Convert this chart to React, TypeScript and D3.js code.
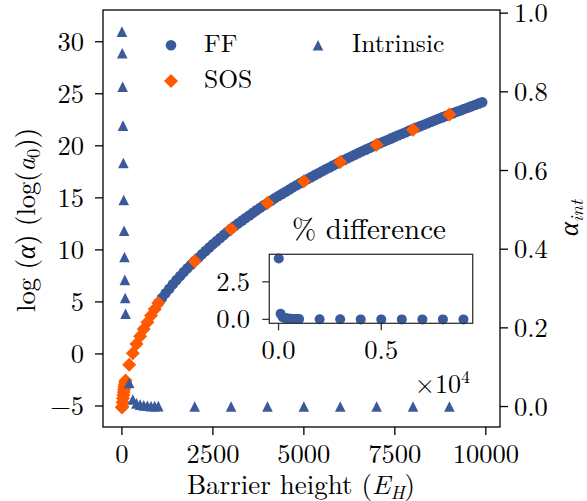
import React from 'react';
import * as d3 from 'd3';

const W = 587;
const H = 501;
const FONT = "'Latin Modern Roman'";
const BLUE = '#3a5a9c';
const ORANGE = '#ff5a00';

// FF: log(alpha) against barrier height
const ffBarrier = [
  1000, 1100, 1200, 1300, 1400, 1500, 1600, 1700, 1800, 1900,
  2000, 2100, 2200, 2300, 2400, 2500, 2600, 2700, 2800, 2900,
  3000, 3100, 3200, 3300, 3400, 3500, 3600, 3700, 3800, 3900,
  4000, 4100, 4200, 4300, 4400, 4500, 4600, 4700, 4800, 4900,
  5000, 5100, 5200, 5300, 5400, 5500, 5600, 5700, 5800, 5900,
  6000, 6100, 6200, 6300, 6400, 6500, 6600, 6700, 6800, 6900,
  7000, 7100, 7200, 7300, 7400, 7500, 7600, 7700, 7800, 7900,
  8000, 8100, 8200, 8300, 8400, 8500, 8600, 8700, 8800, 8900,
  9000, 9100, 9200, 9300, 9400, 9500, 9600, 9700, 9800, 9900,
];
const ffLogAlpha = [
  4.90, 5.37, 5.83, 6.27, 6.69, 7.10, 7.49, 7.87, 8.23, 8.58,
  8.92, 9.25, 9.58, 9.90, 10.22, 10.53, 10.84, 11.14, 11.44, 11.73,
  12.02, 12.29, 12.55, 12.81, 13.06, 13.31, 13.56, 13.80, 14.04, 14.28,
  14.51, 14.73, 14.95, 15.17, 15.38, 15.59, 15.80, 16.01, 16.21, 16.41,
  16.61, 16.80, 16.99, 17.18, 17.37, 17.56, 17.74, 17.92, 18.10, 18.28,
  18.46, 18.63, 18.80, 18.97, 19.14, 19.31, 19.47, 19.63, 19.79, 19.95,
  20.11, 20.26, 20.41, 20.56, 20.71, 20.86, 21.01, 21.16, 21.31, 21.46,
  21.61, 21.75, 21.89, 22.03, 22.17, 22.31, 22.45, 22.59, 22.73, 22.87,
  23.01, 23.14, 23.27, 23.40, 23.53, 23.66, 23.79, 23.92, 24.05, 24.18,
];

// SOS: log(alpha) against barrier height
const sosBarrier = [
  1, 10, 20, 30, 40, 50, 60, 70, 80, 90, 100,
  200, 300, 400, 500, 600, 700, 800, 900, 1000,
  2000, 3000, 4000, 5000, 6000, 7000, 8000, 9000,
];
const sosLogAlpha = [
  -5.15, -5.05, -4.65, -4.25, -3.95, -3.65, -3.4, -3.15, -2.95, -2.75, -2.55,
  -1.05, 0.07, 0.95, 1.7, 2.4, 3.05, 3.7, 4.3, 4.9,
  8.9, 12.0, 14.5, 16.6, 18.45, 20.1, 21.55, 23.0,
];

// Intrinsic alpha (right axis) against barrier height
const intrinsicBarrier = [
  1, 10, 20, 30, 40, 50, 60, 70, 80, 90, 100,
  200, 300, 400, 500, 600, 700, 800, 900, 1000,
  2000, 3000, 4000, 5000, 6000, 7000, 8000, 9000,
];
const intrinsicAlpha = [
  0.953, 0.898, 0.813, 0.714, 0.619, 0.525, 0.447, 0.38, 0.322, 0.276, 0.236,
  0.06, 0.018, 0.008, 0.005, 0.003, 0.002, 0.001, 0.001, 0.001,
  0, 0, 0, 0, 0, 0, 0, 0,
];

// Percent difference between FF and SOS (inset)
const diffBarrier = [
  10, 100, 200, 300, 400, 500, 600, 700, 800, 900, 1000,
  2000, 3000, 4000, 5000, 6000, 7000, 8000, 9000,
];
const diffPercent = [
  4.05, 0.38, 0.15, 0.1, 0.07, 0.05, 0.04, 0.03, 0.03, 0.02, 0.02,
  0.01, 0.01, 0.0, 0.0, 0.0, 0.0, 0.0, 0.0,
];

const xTicks = [0, 2500, 5000, 7500, 10000];
const yLeftTicks = [-5, 0, 5, 10, 15, 20, 25, 30];
const yRightTicks = [0, 0.2, 0.4, 0.6, 0.8, 1.0];
const insetXTicks = [0, 0.5];
const insetYTicks = [0, 2.5];

const plot = { left: 103, right: 500, top: 10, bottom: 427 };
const inset = { left: 269.3, right: 472.7, top: 254.3, bottom: 323.3 };

const fmtMinus = (s: string) => s.replace('-', '\u2212');

function triangle(cx: number, cy: number, r: number) {
  return `M${cx},${cy - r}L${cx - r},${cy + r}L${cx + r},${cy + r}Z`;
}
function diamond(cx: number, cy: number, r: number) {
  return `M${cx},${cy - r}L${cx + r},${cy}L${cx},${cy + r}L${cx - r},${cy}Z`;
}

export default function App() {
  const x = d3.scaleLinear().domain([-520, 10390]).range([plot.left, plot.right]);
  const yL = d3.scaleLinear().domain([-7.02, 33.05]).range([plot.bottom, plot.top]);
  const yR = d3.scaleLinear().domain([-0.052, 1.008]).range([plot.bottom, plot.top]);

  const ix = d3.scaleLinear().domain([-0.045, 0.945]).range([inset.left, inset.right]);
  const iy = d3.scaleLinear().domain([-0.26, 4.33]).range([inset.bottom, inset.top]);

  const tickFont = 26.5;
  const mR = 5.3;
  const txt = { fontFamily: FONT } as React.CSSProperties;

  return (
    <svg
      width={W}
      height={H}
      viewBox={`0 0 ${W} ${H}`}
      style={{ position: 'absolute', left: 0, top: 0, background: '#fff', fontFamily: FONT }}
    >
      <rect x={0} y={0} width={W} height={H} fill="#fff" />

      {/* FF circles */}
      <g fill={BLUE}>
        {ffBarrier.map((b, i) => (
          <circle key={i} cx={x(b)} cy={yL(ffLogAlpha[i])} r={mR} />
        ))}
      </g>

      {/* SOS diamonds */}
      <g fill={ORANGE}>
        {sosBarrier.map((b, i) => (
          <path key={i} d={diamond(x(b), yL(sosLogAlpha[i]), 7)} />
        ))}
      </g>

      {/* Intrinsic triangles on the right axis */}
      <g fill={BLUE}>
        {intrinsicBarrier.map((b, i) => (
          <path key={i} d={triangle(x(b), yR(intrinsicAlpha[i]), mR)} />
        ))}
      </g>

      {/* spines */}
      <rect
        x={plot.left}
        y={plot.top}
        width={plot.right - plot.left}
        height={plot.bottom - plot.top}
        fill="none"
        stroke="#000"
        strokeWidth={1.3}
      />

      {/* bottom axis */}
      <g>
        {xTicks.map((t) => (
          <g key={t}>
            <line x1={x(t)} x2={x(t)} y1={plot.bottom} y2={plot.bottom + 8} stroke="#000" strokeWidth={1.3} />
            <text x={x(t)} y={463} textAnchor="middle" fontSize={tickFont} style={txt}>
              {t}
            </text>
          </g>
        ))}
        <text x={301} y={494} textAnchor="middle" fontSize={27} style={txt}>
          Barrier height (<tspan fontStyle="italic">E</tspan>
          <tspan fontStyle="italic" fontSize={19} dy={5}>H</tspan>
          <tspan dy={-5}>)</tspan>
        </text>
      </g>

      {/* left axis */}
      <g>
        {yLeftTicks.map((t) => (
          <g key={t}>
            <line x1={plot.left - 8} x2={plot.left} y1={yL(t)} y2={yL(t)} stroke="#000" strokeWidth={1.3} />
            <text x={84} y={yL(t) + 9} textAnchor="end" fontSize={tickFont} style={txt}>
              {fmtMinus(String(t))}
            </text>
          </g>
        ))}
        <text transform="translate(35,220) rotate(-90)" textAnchor="middle" fontSize={26.5} style={txt}>
          log (<tspan fontStyle="italic">α</tspan>) (log(<tspan fontStyle="italic">a</tspan>
          <tspan fontSize={18.5} dy={5}>0</tspan>
          <tspan dy={-5}>))</tspan>
        </text>
      </g>

      {/* right axis */}
      <g>
        {yRightTicks.map((t) => (
          <g key={t}>
            <line x1={plot.right} x2={plot.right + 8} y1={yR(t)} y2={yR(t)} stroke="#000" strokeWidth={1.3} />
            <text x={514} y={yR(t) + 9} textAnchor="start" fontSize={tickFont} style={txt}>
              {t.toFixed(1)}
            </text>
          </g>
        ))}
        <text transform="translate(578,218) rotate(-90)" textAnchor="middle" fontSize={26.5} style={txt}>
          <tspan fontStyle="italic">α</tspan>
          <tspan fontStyle="italic" fontSize={18.5} dy={5}>int</tspan>
        </text>
      </g>

      {/* legend */}
      <g>
        <circle cx={171} cy={45.3} r={mR} fill={BLUE} />
        <text x={204} y={51.7} fontSize={25.5} style={txt}>FF</text>
        <path d={diamond(171, 81, 7)} fill={ORANGE} />
        <text x={204} y={88.3} fontSize={25.5} style={txt}>SOS</text>
        <path d={triangle(318, 45.3, mR)} fill={BLUE} />
        <text x={352} y={51.7} fontSize={25.5} style={txt}>Intrinsic</text>
      </g>

      {/* inset: percent difference */}
      <g>
        <rect
          x={inset.left}
          y={inset.top}
          width={inset.right - inset.left}
          height={inset.bottom - inset.top}
          fill="#fff"
        />
        <g fill={BLUE}>
          {diffBarrier.map((b, i) => (
            <circle key={i} cx={ix(b / 1e4)} cy={iy(diffPercent[i])} r={5} />
          ))}
        </g>
        <rect
          x={inset.left}
          y={inset.top}
          width={inset.right - inset.left}
          height={inset.bottom - inset.top}
          fill="none"
          stroke="#333"
          strokeWidth={1.3}
        />
        {insetYTicks.map((t) => (
          <g key={t}>
            <line x1={inset.left - 7} x2={inset.left} y1={iy(t)} y2={iy(t)} stroke="#333" strokeWidth={1.3} />
            <text x={250} y={iy(t) + 9} textAnchor="end" fontSize={tickFont} style={txt}>
              {t.toFixed(1)}
            </text>
          </g>
        ))}
        {insetXTicks.map((t) => (
          <g key={t}>
            <line x1={ix(t)} x2={ix(t)} y1={inset.bottom} y2={inset.bottom + 7} stroke="#333" strokeWidth={1.3} />
            <text x={ix(t)} y={359} textAnchor="middle" fontSize={tickFont} style={txt}>
              {t.toFixed(1)}
            </text>
          </g>
        ))}
        <text x={(inset.left + inset.right) / 2 - 2} y={239} textAnchor="middle" fontSize={29} style={txt}>
          % difference
        </text>
        <text x={470} y={393} textAnchor="end" fontSize={26} style={txt}>
          ×10<tspan fontSize={18} dy={-10}>4</tspan>
        </text>
      </g>
    </svg>
  );
}
